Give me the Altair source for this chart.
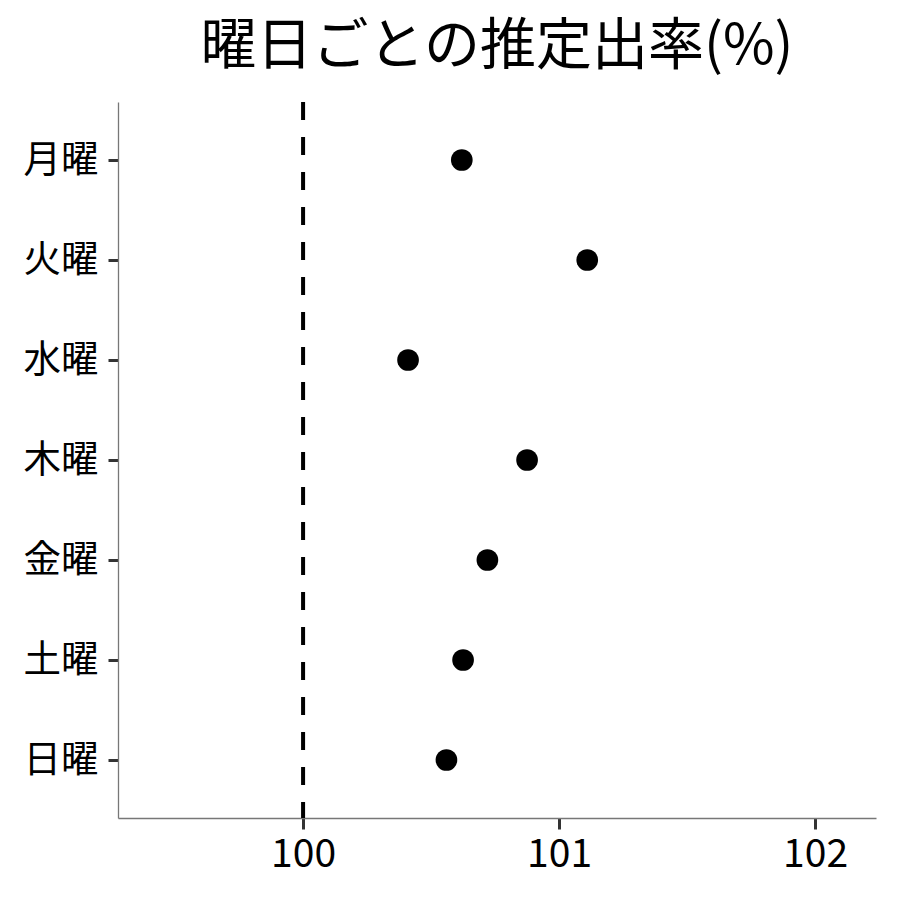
import altair as alt
import pandas as pd

days = ["月曜", "火曜", "水曜", "木曜", "金曜", "土曜", "日曜"]
rates = [100.62, 101.11, 100.41, 100.875, 100.72, 100.625, 100.56]
ref_value = [100]
x_ticks = [100, 101, 102]
title_text = "曜日ごとの推定出率(%)"

df = pd.DataFrame({"day": days, "rate": rates})
ref_df = pd.DataFrame({"ref": ref_value})

FONT = "Noto Sans CJK JP"

x_scale = alt.Scale(domain=[99.277, 102.238], nice=False, zero=False)
y_scale = alt.Scale(domain=days, padding=0.58)

rule = alt.Chart(ref_df).mark_rule(
    color="black", strokeWidth=4, strokeDash=[18, 17]
).encode(x=alt.X("ref:Q", scale=x_scale))

points = alt.Chart(df).mark_circle(size=470, color="black", opacity=1).encode(
    x=alt.X(
        "rate:Q",
        scale=x_scale,
        title=None,
        axis=alt.Axis(
            values=x_ticks,
            format="d",
            grid=False,
            labelFont=FONT,
            labelFontSize=39,
            labelColor="black",
            labelPadding=6,
            tickSize=11,
            tickWidth=3,
            tickColor="#333333",
            domainColor="#777777",
            domainWidth=1.3,
        ),
    ),
    y=alt.Y(
        "day:N",
        scale=y_scale,
        sort=days,
        title=None,
        axis=alt.Axis(
            grid=False,
            labelFont=FONT,
            labelFontSize=37.5,
            labelColor="black",
            labelPadding=10,
            tickSize=10,
            tickWidth=3,
            tickColor="#333333",
            domainColor="#777777",
            domainWidth=1.3,
        ),
    ),
)

chart = (
    alt.layer(rule, points)
    .properties(
        width=758,
        height=716,
        title=alt.TitleParams(
            title_text, font=FONT, fontSize=56, fontWeight="normal",
            color="black", anchor="middle", offset=24,
        ),
        padding={"left": 110, "top": 94, "right": 8, "bottom": 70},
        autosize=alt.AutoSizeParams(type="none"),
        background="white",
    )
    .configure_view(stroke=None)
)

chart.save("out.html", embed_options={"renderer": "svg", "actions": False})
